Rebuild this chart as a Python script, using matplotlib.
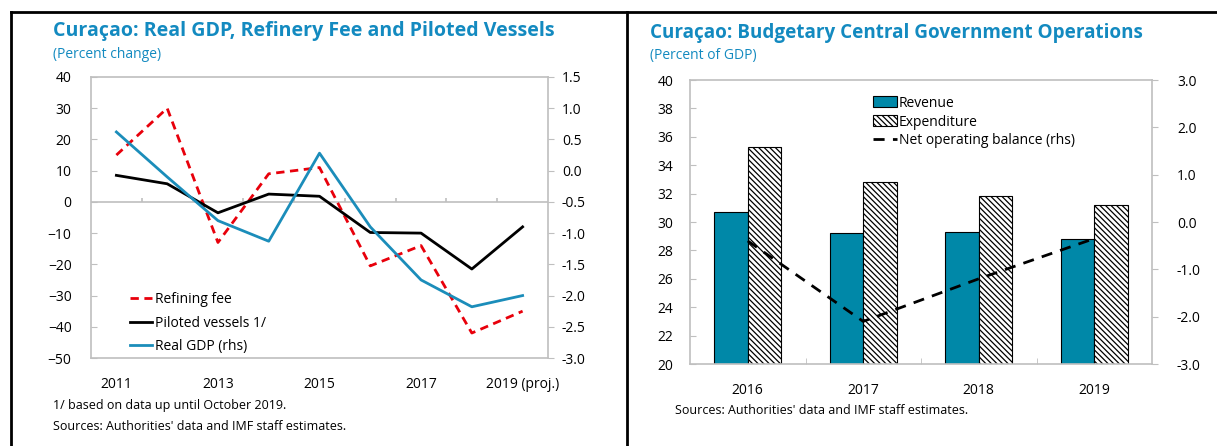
import numpy as np
import matplotlib.pyplot as plt
from matplotlib.lines import Line2D

plt.rcParams['font.family'] = ['Open Sans', 'DejaVu Sans']
plt.rcParams['hatch.linewidth'] = 0.9

# left chart data
years = ['2011', '2012', '2013', '2014', '2015', '2016', '2017', '2018', '2019 (proj.)']
refining_fee = [15, 30, -13, 9, 11, -20.5, -14, -42, -35]
piloted_vessels = [8.5, 5.8, -3.5, 2.5, 1.8, -9.8, -10, -21.5, -8]
real_gdp = [0.62, -0.1, -0.8, -1.13, 0.28, -0.9, -1.75, -2.18, -2.0]

# right chart data
fy = ['2016', '2017', '2018', '2019']
revenue = [30.7, 29.2, 29.3, 28.8]
expenditure = [35.3, 32.8, 31.8, 31.2]
net_balance = [-0.4, -2.1, -1.2, -0.35]

W, H = 1217, 446
fig = plt.figure(figsize=(W / 100, H / 100), dpi=100)

TEAL = '#138AC0'
GRAY = '#BFBFBF'

def box(x, y, w, h):
    return [x / W, 1 - (y + h) / H, w / W, h / H]

def ftext(x, y, s, **kw):
    fig.text(x / W, 1 - y / H, s, va='center', ha='left', **kw)

# panel borders
fig.add_artist(Line2D([11 / W, 1], [1 - 12 / H] * 2, color='black', lw=2))
fig.add_artist(Line2D([11 / W] * 2, [0, 1 - 12 / H], color='black', lw=2))
fig.add_artist(Line2D([627 / W] * 2, [0, 1 - 12 / H], color='black', lw=2))

# ---------- left chart ----------
ax = fig.add_axes(box(91, 77, 457, 281))
x = np.arange(len(years))
ax.set_xlim(-0.5, len(years) - 0.5)
ax.set_ylim(-50, 40)
ax.set_yticks(range(-50, 41, 10))
ax.axhline(0, color=GRAY, lw=1.2, zorder=1)
ax.vlines(x[:-1] + 0.5, 0, 1.3, color=GRAY, lw=1.2, zorder=1)
ax.set_xticks(x)
ax.set_xticklabels([y if i % 2 == 0 else '' for i, y in enumerate(years)])
ax.tick_params(axis='x', length=0, pad=14, labelsize=10)
ax.tick_params(axis='y', direction='in', length=4, color=GRAY, labelsize=10, pad=14)
for s in ax.spines.values():
    s.set_color(GRAY)
    s.set_linewidth(1.2)

l1, = ax.plot(x, refining_fee, color='#E8000B', lw=2, ls=(0, (3, 2)), label='Refining fee', zorder=3)
l2, = ax.plot(x, piloted_vessels, color='black', lw=2, label='Piloted vessels 1/', zorder=3)
ax2 = ax.twinx()
ax2.set_ylim(-3.0, 1.5)
ax2.set_yticks(np.arange(-3.0, 1.51, 0.5))
ax2.set_yticklabels([f'{v:.1f}' for v in np.arange(-3.0, 1.51, 0.5)])
ax2.tick_params(axis='y', direction='out', length=4, color=GRAY, labelsize=10, pad=6)
for s in ax2.spines.values():
    s.set_visible(False)
l3, = ax2.plot(x, real_gdp, color='#1B8DBA', lw=2, label='Real GDP (rhs)', zorder=3)
ax.legend(handles=[l1, l2, l3], loc='upper left', bbox_to_anchor=(0.085, 0.235),
          frameon=False, fontsize=10, handlelength=1.6, handletextpad=0.2,
          labelspacing=0.62, borderpad=0, borderaxespad=0)

ftext(53, 31, 'Curaçao: Real GDP, Refinery Fee and Piloted Vessels', color=TEAL,
      fontsize=14.1, fontweight='bold')
ftext(53, 54, '(Percent change)', color=TEAL, fontsize=10)
ftext(53, 405, '1/ based on data up until October 2019.', fontsize=9)
ftext(53, 426, "Sources: Authorities' data and IMF staff estimates.", fontsize=9)

# ---------- right chart ----------
bx = fig.add_axes(box(690, 80, 462, 284))
xr = np.arange(len(fy))
bw = 0.29
bx.bar(xr - bw / 2, revenue, bw, color='#0088A8', edgecolor='black', lw=0.8,
       label='Revenue', zorder=2)
bx.bar(xr + bw / 2, expenditure, bw, color='white', edgecolor='black', lw=0.8,
       hatch='\\\\\\\\\\\\', label='Expenditure', zorder=2)
bx.set_xlim(-0.5, len(fy) - 0.5)
bx.set_ylim(20, 40)
bx.set_yticks(range(20, 41, 2))
bx.set_xticks(xr)
bx.set_xticklabels(fy)
bx.set_xticks(xr[:-1] + 0.5, minor=True)
bx.tick_params(axis='x', which='major', length=0, pad=14, labelsize=10)
bx.tick_params(axis='x', which='minor', direction='in', length=4, color=GRAY)
bx.tick_params(axis='y', direction='in', length=4, color=GRAY, labelsize=10, pad=12)
for s in bx.spines.values():
    s.set_color(GRAY)
    s.set_linewidth(1.2)

bx2 = bx.twinx()
bx2.set_ylim(-3.0, 3.0)
bx2.set_yticks(np.arange(-3.0, 3.01, 1.0))
bx2.set_yticklabels([f'{v:.1f}' for v in np.arange(-3.0, 3.01, 1.0)])
bx2.tick_params(axis='y', direction='out', length=4, color=GRAY, labelsize=10, pad=14)
for s in bx2.spines.values():
    s.set_visible(False)
ln, = bx2.plot(xr, net_balance, color='black', lw=2, ls=(0, (4, 3)),
               label='Net operating balance (rhs)', zorder=3)
h, lab = bx.get_legend_handles_labels()
bx.legend(handles=h + [ln], loc='upper left', bbox_to_anchor=(0.396, 0.945),
          frameon=False, fontsize=10, handlelength=1.75, handleheight=0.8,
          handletextpad=0.1, labelspacing=0.28, borderpad=0, borderaxespad=0)

ftext(650, 33, 'Curaçao: Budgetary Central Government Operations', color=TEAL,
      fontsize=13.6, fontweight='bold')
ftext(650, 56, '(Percent of GDP)', color=TEAL, fontsize=10)
ftext(675, 410, "Sources: Authorities' data and IMF staff estimates.", fontsize=9)

fig.savefig('out.png', dpi=100)
